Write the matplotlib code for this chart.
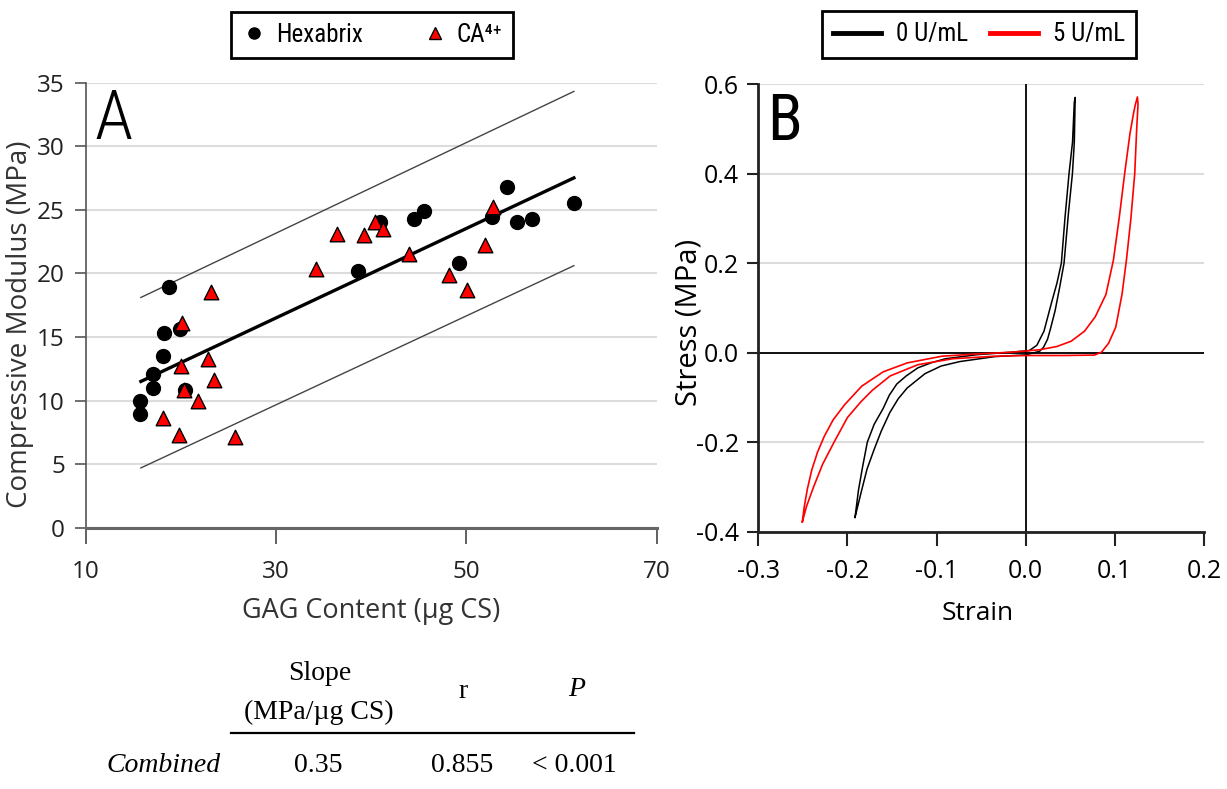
import matplotlib
matplotlib.use('Agg')
import matplotlib.pyplot as plt
from matplotlib import font_manager as fm
from matplotlib.lines import Line2D
from matplotlib.ticker import FormatStrFormatter

plt.rcParams['axes.unicode_minus'] = False

# ---------------- Panel A data ----------------
hex_gag = [18.8, 18.2, 19.9, 18.1, 17.1, 17.1, 15.7, 15.7, 20.4, 38.6,
           40.9, 44.5, 45.6, 49.2, 52.7, 54.3, 55.3, 56.9, 61.3]
hex_mod = [18.9, 15.3, 15.6, 13.5, 12.1, 11.0, 10.0, 8.9, 10.8, 20.2,
           24.0, 24.3, 24.9, 20.8, 24.4, 26.8, 24.0, 24.3, 25.5]
ca_gag = [23.2, 20.1, 20.0, 22.9, 23.5, 20.3, 21.8, 18.1, 19.8, 25.7,
          34.2, 36.4, 39.2, 40.4, 41.2, 44.0, 48.2, 50.1, 52.0, 52.8]
ca_mod = [18.5, 16.1, 12.7, 13.3, 11.6, 10.8, 10.0, 8.6, 7.3, 7.1,
          20.3, 23.1, 23.0, 24.0, 23.5, 21.5, 19.9, 18.7, 22.2, 25.2]
fit_gag = [15.8, 61.3]
fit_mod = [11.5, 27.5]
band_upper = [18.1, 34.3]
band_lower = [4.7, 20.6]
a_xticks = [10, 30, 50, 70]
a_yticks = [0, 5, 10, 15, 20, 25, 30, 35]
a_labels = ['Hexabrix', 'CA\u2074\u207a']

# ---------------- Panel B data ----------------
black_strain = [-0.1915, -0.184, -0.178, -0.170, -0.162, -0.1525, -0.143, -0.133, -0.113,
                -0.095, -0.074, -0.035, 0.0, 0.0156, 0.020, 0.0245, 0.028, 0.033, 0.038,
                0.043, 0.048, 0.0524, 0.0545, 0.0553, 0.0555,
                0.0545, 0.0525, 0.0486, 0.044, 0.040, 0.035, 0.029, 0.0205, 0.0125, 0.004,
                -0.0156, -0.0547, -0.090, -0.105, -0.121, -0.134, -0.1446, -0.153, -0.160,
                -0.170, -0.1777, -0.183, -0.1876, -0.1915]
black_stress = [-0.368, -0.307, -0.260, -0.216, -0.175, -0.134, -0.103, -0.079, -0.047,
                -0.030, -0.020, -0.009, -0.005, 0.003, 0.012, 0.030, 0.055, 0.094, 0.145,
                0.200, 0.313, 0.400, 0.470, 0.550, 0.570,
                0.559, 0.470, 0.400, 0.300, 0.200, 0.155, 0.112, 0.048, 0.0164, 0.0046,
                0.001, -0.0046, -0.0137, -0.022, -0.034, -0.052, -0.070, -0.095, -0.125,
                -0.160, -0.200, -0.255, -0.307, -0.368]
red_strain = [-0.2506, -0.2485, -0.245, -0.240, -0.2335, -0.226, -0.216, -0.203, -0.184,
              -0.160, -0.133, -0.094, -0.055, -0.0156, 0.0156, 0.035, 0.051, 0.066, 0.078,
              0.090, 0.0984, 0.105, 0.111, 0.117, 0.121, 0.123, 0.1253,
              0.126, 0.1245, 0.1223, 0.118, 0.113, 0.108, 0.101, 0.093, 0.085, 0.077,
              0.043, 0.004, -0.035, -0.082, -0.121, -0.152, -0.172, -0.185, -0.200,
              -0.215, -0.228, -0.238, -0.246, -0.2506]
red_stress = [-0.378, -0.345, -0.305, -0.262, -0.222, -0.187, -0.150, -0.116, -0.075,
              -0.043, -0.023, -0.008, -0.003, 0.001, 0.0064, 0.0137, 0.0255, 0.048, 0.080,
              0.130, 0.207, 0.303, 0.400, 0.490, 0.535, 0.554, 0.571,
              0.555, 0.500, 0.400, 0.300, 0.207, 0.130, 0.057, 0.021, 0.001, -0.0055,
              -0.0064, -0.0064, -0.008, -0.0137, -0.027, -0.052, -0.084, -0.110, -0.145,
              -0.200, -0.250, -0.300, -0.344, -0.378]
b_xticks = [-0.3, -0.2, -0.1, 0.0, 0.1, 0.2]
b_yticks = [-0.4, -0.2, 0.0, 0.2, 0.4, 0.6]
b_labels = ['0 U/mL', '5 U/mL']

# ---------------- Table ----------------
tbl_head = ['Slope', '(MPa/\u00b5g CS)', 'r', 'P']
tbl_row = ['Combined', '0.35', '0.855', '< 0.001']

W, H = 1227, 789
def px(x):
    return x / W
def py(y):
    return 1 - y / H

names = set(f.name for f in fm.fontManager.ttflist)
def pick(cands):
    return [c for c in cands if c in names] + ['DejaVu Sans']

SANS = pick(['Open Sans', 'Noto Sans'])
NARROW = pick(['Liberation Sans Narrow', 'Roboto Condensed', 'Arial Narrow', 'Liberation Sans'])
narrow_ok = NARROW[0] in ('Liberation Sans Narrow', 'Roboto Condensed', 'Arial Narrow')
SERIF = pick(['Liberation Serif', 'DejaVu Serif'])
leg_size = 18 if narrow_ok else 16
if narrow_ok:
    LETTER, letter_w, letter_scale = NARROW, 'light', 1.0
else:
    LETTER, letter_w, letter_scale = pick(['Roboto', 'Lato']), 'light', 0.92

fig = plt.figure(figsize=(W / 100, H / 100), dpi=100)

# ================= Panel A =================
axA = fig.add_axes([px(85.7), py(527.7), px(656.7) - px(85.7), py(82.5) - py(527.7)])
axA.set_xlim(10, 70)
axA.set_ylim(0, 35)
axA.set_xticks(a_xticks)
axA.set_yticks(a_yticks)
axA.yaxis.grid(True, color='#dcdcdc', lw=1.5)
axA.set_axisbelow(True)
for s in ['top', 'right']:
    axA.spines[s].set_visible(False)
axA.spines['left'].set_color('#555555')
axA.spines['left'].set_linewidth(1.2)
axA.spines['bottom'].set_color('#666666')
axA.spines['bottom'].set_linewidth(2.2)
axA.tick_params(axis='x', length=11.5, width=1.3, color='#555555', pad=12, labelsize=17.5)
axA.tick_params(axis='y', length=8, width=1.2, color='#555555', pad=7, labelsize=17.5)
for lab in axA.get_xticklabels() + axA.get_yticklabels():
    lab.set_family(SANS)
    lab.set_color('#222222')

axA.plot(fit_gag, band_upper, color='#444444', lw=1.0, zorder=2)
axA.plot(fit_gag, band_lower, color='#444444', lw=1.0, zorder=2)
axA.plot(fit_gag, fit_mod, color='black', lw=2.4, zorder=2)
axA.scatter(hex_gag, hex_mod, s=100, c='black', marker='o', zorder=3, label=a_labels[0])
axA.scatter(ca_gag, ca_mod, s=110, marker='^', facecolor='#ff0000', edgecolor='black',
            linewidths=1.0, zorder=4, label=a_labels[1])

fig.text(px(371), py(611), 'GAG Content (\u00b5g CS)', ha='center', va='center',
         fontsize=19.5, family=SANS, color='#333333')
fig.text(px(20), py(324), 'Compressive Modulus (MPa)', ha='center', va='center',
         rotation=90, fontsize=20, family=SANS, color='#333333')
fig.text(px(94), py(139), 'A', ha='left', va='baseline', fontsize=50 * letter_scale,
         family=LETTER, weight=letter_w)

hA = [Line2D([], [], marker='o', color='black', ls='none', ms=8),
      Line2D([], [], marker='^', mfc='#ff0000', mec='black', ls='none', ms=9)]
legA = fig.legend(hA, a_labels, loc='center', bbox_to_anchor=(px(372), py(35)), ncol=2,
                  frameon=True, fancybox=False, edgecolor='black', framealpha=1,
                  prop={'family': NARROW, 'size': leg_size}, handletextpad=0.35,
                  columnspacing=2.4, borderpad=0.45, handlelength=1.0)
legA.get_frame().set_linewidth(2)

# ================= Panel B =================
axB = fig.add_axes([px(758.3), py(531.7), px(1204) - px(758.3), py(84) - py(531.7)])
axB.set_xlim(-0.3, 0.2)
axB.set_ylim(-0.4, 0.6)
axB.set_xticks(b_xticks)
axB.set_yticks(b_yticks)
axB.xaxis.set_major_formatter(FormatStrFormatter('%.1f'))
axB.yaxis.set_major_formatter(FormatStrFormatter('%.1f'))
axB.yaxis.grid(True, color='#dcdcdc', lw=1.5)
axB.set_axisbelow(True)
for s in ['top', 'right']:
    axB.spines[s].set_visible(False)
for s in ['left', 'bottom']:
    axB.spines[s].set_color('#222222')
    axB.spines[s].set_linewidth(2.0)
axB.tick_params(axis='x', length=10, width=1.5, color='#222222', pad=10, labelsize=18)
axB.tick_params(axis='y', length=8, width=1.5, color='#222222', pad=6, labelsize=18)
for lab in axB.get_xticklabels() + axB.get_yticklabels():
    lab.set_family(SANS)
axB.axhline(0, color='black', lw=1.3, zorder=1.5)
axB.axvline(0, color='black', lw=1.3, zorder=1.5)
axB.plot(black_strain, black_stress, color='black', lw=1.1, zorder=3)
axB.plot(red_strain, red_stress, color='#ff0000', lw=1.2, zorder=3)

fig.text(px(978), py(614), 'Strain', ha='center', va='center', fontsize=19, family=SANS)
fig.text(px(689), py(322), 'Stress (MPa)', ha='center', va='center', rotation=90,
         fontsize=21, family=SANS)
fig.text(px(767), py(140), 'B', ha='left', va='baseline', fontsize=46 * letter_scale,
         family=LETTER)

hB = [Line2D([], [], color='black', lw=3.5), Line2D([], [], color='#ff0000', lw=3.5)]
legB = fig.legend(hB, b_labels, loc='center', bbox_to_anchor=(px(979), py(34.5)), ncol=2,
                  frameon=True, fancybox=False, edgecolor='black', framealpha=1,
                  prop={'family': NARROW, 'size': leg_size}, handletextpad=0.6,
                  columnspacing=0.9, borderpad=0.45, handlelength=1.9)
legB.get_frame().set_linewidth(2)

# ================= Table =================
fs = 20
fig.text(px(320), py(673), tbl_head[0], ha='center', va='center', fontsize=fs, family=SERIF)
fig.text(px(319), py(712), tbl_head[1], ha='center', va='center', fontsize=fs, family=SERIF)
fig.text(px(463), py(692), tbl_head[2], ha='center', va='center', fontsize=fs, family=SERIF)
fig.text(px(577), py(690), tbl_head[3], ha='center', va='center', fontsize=fs, family=SERIF,
         style='italic')
fig.add_artist(Line2D([px(231), px(634)], [py(733), py(733)], color='black', lw=1.6,
                      transform=fig.transFigure))
row_x = [164, 318, 462, 574]
for i, (xx, t) in enumerate(zip(row_x, tbl_row)):
    fig.text(px(xx), py(766), t, ha='center', va='center', fontsize=fs, family=SERIF,
             style='italic' if i == 0 else 'normal')

fig.savefig('out.png', dpi=100)
